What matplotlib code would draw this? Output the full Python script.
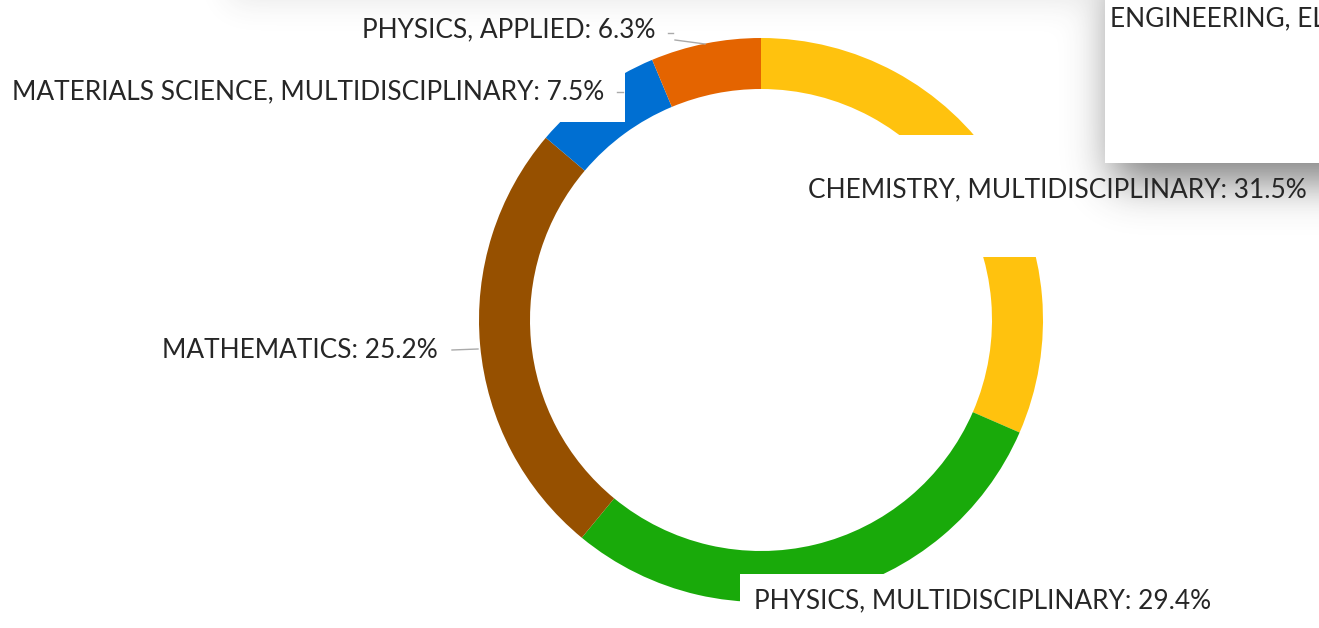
import math
import numpy as np
import matplotlib
matplotlib.use("Agg")
import matplotlib.pyplot as plt
from matplotlib.patches import Rectangle

# data
categories = [
    "CHEMISTRY, MULTIDISCIPLINARY",
    "PHYSICS, MULTIDISCIPLINARY",
    "MATHEMATICS",
    "MATERIALS SCIENCE, MULTIDISCIPLINARY",
    "PHYSICS, APPLIED",
]
shares = [31.5, 29.4, 25.2, 7.5, 6.3]
colors = ["#FFC20E", "#19AA0A", "#965000", "#006FD2", "#E46400"]
tooltip_text = "ENGINEERING, ELECTRICAL & ELECTRONIC"

W, H = 1319, 628
plt.rcParams["font.family"] = ["Lato", "DejaVu Sans"]
TXT = "#262626"
FS = 18.9


def py(y):
    # pixel row (from top) -> data y
    return H - y


def erf_arr(a):
    return np.array([math.erf(v) for v in a])


def soft_box(x0, x1, y0, y1, s, amp):
    xs = np.arange(W) + 0.5
    ys = np.arange(H) + 0.5
    fx = 0.5 * (erf_arr((xs - x0) / s) - erf_arr((xs - x1) / s))
    fy = 0.5 * (erf_arr((ys - y0) / s) - erf_arr((ys - y1) / s))
    return amp * np.outer(fy, fx)


fig = plt.figure(figsize=(W / 100, H / 100), dpi=100)
ax = fig.add_axes([0, 0, 1, 1])

ax.pie(shares, colors=colors, startangle=90, counterclock=False,
       radius=282, center=(761, py(320)),
       wedgeprops=dict(width=51, linewidth=0))
ax.set_xlim(0, W)
ax.set_ylim(0, H)
ax.set_aspect("auto")
ax.axis("off")

# white label backgrounds that sit over the ring
for x0, y0, x1, y1 in [(0, 63, 625, 122), (740, 574, W, H), (790, 135, W, 257)]:
    ax.add_patch(Rectangle((x0, py(y1)), x1 - x0, y1 - y0,
                           facecolor="white", edgecolor="none", zorder=3))

# shadows of overlapping panels
alpha = soft_box(1112, W + 80, -20, 182, 30, 0.66)
alpha += soft_box(230, 1090, -60, 2, 22, 0.12)
alpha = np.clip(alpha, 0, 1)
shade = np.zeros((H, W, 4))
shade[..., :3] = 0.25
shade[..., 3] = alpha
ax.imshow(shade, extent=(0, W, 0, H), origin="upper", zorder=4,
          interpolation="bilinear", aspect="auto")

# tooltip panel
box = Rectangle((1105, py(163)), W - 1105, 163,
                facecolor="white", edgecolor="none", zorder=5)
ax.add_patch(box)
tip = ax.text(1110, py(19), tooltip_text, fontsize=FS, color=TXT,
              va="center", ha="left", zorder=6)
tip.set_clip_path(box)

# leader lines
leaders = [
    ([668, 673], [33, 33]),
    ([675, 705], [40, 44]),
    ([617, 623], [92, 92]),
    ([452, 478], [350, 349]),
]
for xs, ys in leaders:
    ax.plot(xs, [py(v) for v in ys], color="#aaaaaa", lw=1, zorder=6)

labels = [f"{c}: {v}%" for c, v in zip(categories, shares)]
label_pos = [
    (808, 190, "left"),
    (754, 601, "left"),
    (438, 350, "right"),
    (604, 92, "right"),
    (656, 30, "right"),
]
for lab, (x, y, ha) in zip(labels, label_pos):
    ax.text(x, py(y), lab, fontsize=FS, color=TXT, ha=ha, va="center",
            zorder=7)

fig.savefig("out.png", dpi=100, facecolor="white")
